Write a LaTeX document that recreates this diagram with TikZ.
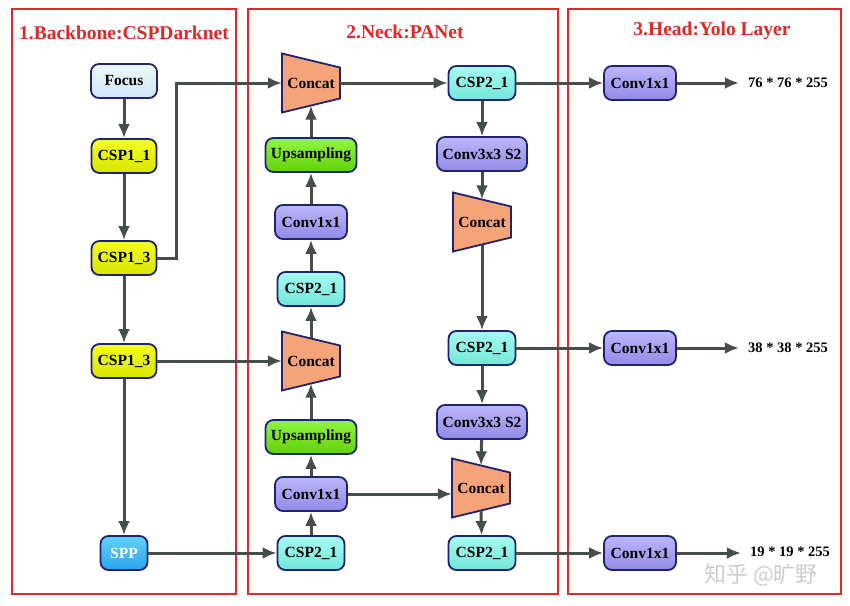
\documentclass[tikz,border=0pt]{standalone}
\usepackage{fontspec}
\setmainfont{Liberation Serif}
\newfontfamily\cjk{Noto Sans CJK SC}
\usetikzlibrary{arrows.meta,calc}
\definecolor{bordc}{HTML}{1E2470}
\definecolor{arrc}{HTML}{474C4C}
\definecolor{panelc}{HTML}{E02828}
\definecolor{titlec}{HTML}{E02828}
\definecolor{catc}{HTML}{F5A47A}
\definecolor{wmc}{HTML}{C8C8C8}
\definecolor{focT}{HTML}{EEF8FC}\definecolor{focB}{HTML}{CFE6F4}
\definecolor{cspoT}{HTML}{F4FF22}\definecolor{cspoB}{HTML}{D8E400}
\definecolor{sppT}{HTML}{62D2FB}\definecolor{sppB}{HTML}{2AA4EE}
\definecolor{upT}{HTML}{92F542}\definecolor{upB}{HTML}{62D20A}
\definecolor{convT}{HTML}{BCB6FB}\definecolor{convB}{HTML}{938AE6}
\definecolor{csptT}{HTML}{A6FCF0}\definecolor{csptB}{HTML}{72E6DA}
\newcommand\concatnode[3]{%
  \filldraw[catshape] (#2-29,#3-29.5) -- (#2+29,#3-15.5) -- (#2+29,#3+15.5) -- (#2-29,#3+29.5) -- cycle;
  \node[cattext] (#1) at (#2,#3) {Concat};}
\begin{document}
\begin{tikzpicture}[x=1pt,y=-1pt,
  boxfont/.style={font=\bfseries\fontsize{15.5}{15.5}\selectfont},
  box/.style={draw=bordc, line width=1.8pt, rounded corners=8pt, minimum height=34pt, inner sep=0pt, boxfont, text=black},
  focusbox/.style={box, top color=focT, bottom color=focB, minimum width=66pt},
  csponebox/.style={box, top color=cspoT, bottom color=cspoB, minimum width=65pt},
  sppbox/.style={box, top color=sppT, bottom color=sppB, minimum width=47pt, text=white},
  upbox/.style={box, top color=upT, bottom color=upB, minimum width=91pt},
  convbox/.style={box, top color=convT, bottom color=convB, minimum width=72pt},
  convthreebox/.style={box, top color=convT, bottom color=convB, minimum width=90pt},
  csptwobox/.style={box, top color=csptT, bottom color=csptB, minimum width=67pt},
  catshape/.style={draw=bordc, line width=1.8pt, fill=catc},
  cattext/.style={minimum width=58pt, minimum height=45pt, inner sep=0pt, boxfont},
  lab/.style={font=\bfseries\fontsize{14.5}{14.5}\selectfont, inner xsep=9pt, inner ysep=1pt},
  title/.style={font=\bfseries\fontsize{19.5}{19.5}\selectfont, text=titlec},
  panel/.style={draw=panelc, line width=1.6pt},
  arr/.style={draw=arrc, line width=3pt, -{Latex[length=14pt,width=12pt]}}
]
\useasboundingbox (0,0) rectangle (850,605);
\fill[white] (0,0) rectangle (850,605);
% panels
\draw[panel] (12,9) rectangle (236,594);
\draw[panel] (248,9) rectangle (558,594);
\draw[panel] (568,9) rectangle (841,594);
\node[title] (t1) at (124,33) {1.Backbone:CSPDarknet};
\node[title] (t2) at (405,32) {2.Neck:PANet};
\node[title] (t3) at (712,31) {3.Head:Yolo Layer};
% column 1
\node[focusbox] (focus) at (124,81) {Focus};
\node[csponebox] (csp11) at (124,156) {CSP1\_1};
\node[csponebox] (csp13a) at (124,258) {CSP1\_3};
\node[csponebox] (csp13b) at (124,361) {CSP1\_3};
\node[sppbox] (spp) at (124,553) {SPP};
% column 2
\concatnode{cat1}{311}{83}
\node[upbox] (ups1) at (311,155) {Upsampling};
\node[convbox] (conv1a) at (311,222) {Conv1x1};
\node[csptwobox] (csp2a) at (311,289) {CSP2\_1};
\concatnode{cat2}{311}{361}
\node[upbox] (ups2) at (311,437) {Upsampling};
\node[convbox] (conv1b) at (311,494) {Conv1x1};
\node[csptwobox] (csp2b) at (311,553) {CSP2\_1};
% column 3
\node[csptwobox] (csp2c) at (482,83) {CSP2\_1};
\node[convthreebox] (conv3a) at (482,154) {Conv3x3 S2};
\concatnode{cat3}{482}{222}
\node[csptwobox] (csp2d) at (482,348) {CSP2\_1};
\node[convthreebox] (conv3b) at (482,422) {Conv3x3 S2};
\concatnode{cat4}{481}{488}
\node[csptwobox] (csp2e) at (482,553) {CSP2\_1};
% column 4
\node[convbox] (conv1c) at (640,83) {Conv1x1};
\node[convbox] (conv1d) at (640,348) {Conv1x1};
\node[convbox] (conv1e) at (640,553) {Conv1x1};
\node[lab] (o1) at (788,83) {76 * 76 * 255};
\node[lab] (o2) at (788,348) {38 * 38 * 255};
\node[lab] (o3) at (790,552) {19 * 19 * 255};
% connectors column 1
\draw[arr] (focus) -- (csp11);
\draw[arr] (csp11) -- (csp13a);
\draw[arr] (csp13a) -- (csp13b);
\draw[arr] (csp13b) -- (spp);
\coordinate (bend) at (176,258);
\draw[arr] (csp13a.east) -- (bend) -- (bend |- cat1.west) -- (cat1.west);
\draw[arr] (csp13b.east) -- (cat2.west);
\draw[arr] (spp.east) -- (csp2b.west);
% column 2 upward
\draw[arr] (csp2b) -- (conv1b);
\draw[arr] (conv1b) -- (ups2);
\draw[arr] (ups2) -- (cat2.south);
\draw[arr] (cat2.north) -- (csp2a);
\draw[arr] (csp2a) -- (conv1a);
\draw[arr] (conv1a) -- (ups1);
\draw[arr] (ups1) -- (cat1.south);
% to column 3
\draw[arr] (cat1.east) -- (csp2c.west);
\draw[arr] (conv1b.east) -- (conv1b.east -| cat4.west);
% column 3 downward
\draw[arr] (csp2c) -- (conv3a);
\draw[arr] (conv3a) -- (cat3.north);
\draw[arr] (cat3.south) -- (csp2d);
\draw[arr] (csp2d) -- (conv3b);
\draw[arr] (conv3b) -- (cat4.north);
\draw[arr] (cat4.south) -- (csp2e);
% heads
\draw[arr] (csp2c) -- (conv1c);
\draw[arr] (csp2d) -- (conv1d);
\draw[arr] (csp2e) -- (conv1e);
\draw[arr] (conv1c) -- (o1);
\draw[arr] (conv1d) -- (o2);
\draw[arr] (conv1e.east) -- (conv1e.east -| o3.west);
% watermark
\node[font=\cjk\fontsize{22}{22}\selectfont, text=wmc, opacity=0.9, inner sep=0pt] (wm) at (761,575) {知乎 @旷野};
\end{tikzpicture}
\end{document}
